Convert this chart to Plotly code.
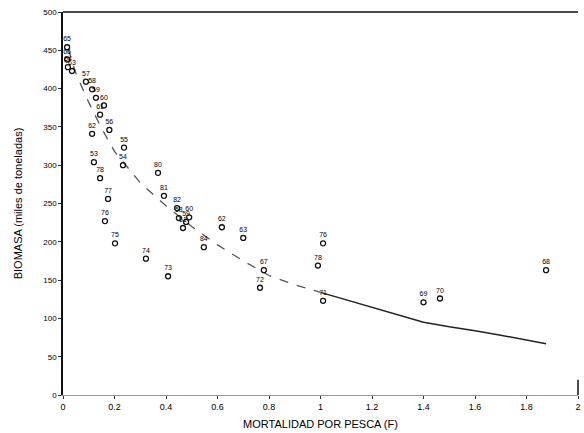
import plotly.graph_objects as go

# Observed points: fishing mortality (F), biomass (thousand t), year label
f_vals = [0.016, 0.016, 0.019, 0.035, 0.089, 0.113, 0.128, 0.159, 0.144, 0.113,
          0.180, 0.237, 0.233, 0.120, 0.144, 0.175, 0.163, 0.202, 0.322, 0.408,
          0.369, 0.392, 0.443, 0.450, 0.478, 0.490, 0.466, 0.547, 0.617, 0.700,
          0.780, 0.765, 0.990, 1.010, 1.010, 1.400, 1.464, 1.876]
b_vals = [454, 438, 428, 423, 409, 399, 388, 378, 366, 341,
          346, 323, 300, 304, 283, 256, 227, 198, 178, 155,
          290, 260, 244, 231, 226, 232, 218, 193, 219, 205,
          163, 140, 169, 198, 123, 121, 126, 163]
year_labels = ["65", "66", "64", "63", "57", "58", "59", "60", "61", "62",
               "56", "55", "54", "53", "78", "77", "76", "75", "74", "73",
               "80", "81", "82", "58", "59", "60", "61", "84", "62", "63",
               "67", "72", "78", "76", "71", "69", "70", "68"]

# Fitted curve
curve_f = [0.02, 0.05, 0.10, 0.15, 0.20, 0.30, 0.40, 0.50, 0.60, 0.70, 0.80, 0.90,
           1.00, 1.10, 1.20, 1.30, 1.40, 1.50, 1.60, 1.70, 1.80, 1.876]
curve_b = [452, 420, 382, 348, 318, 277, 247, 220, 196, 175, 156, 144,
           134, 124, 114, 104, 95, 89, 84, 78, 72, 67]

x_ticks = [0, 0.2, 0.4, 0.6, 0.8, 1, 1.2, 1.4, 1.6, 1.8, 2]
x_tick_text = ["0", "0.2", "0.4", "0.6", "0.8", "1", "1.2", "1.4", "1.6", "1.8", "2"]
y_ticks = [0, 50, 100, 150, 200, 250, 300, 350, 400, 450, 500]

split = 12  # dashed part up to F ~ 1, solid afterwards

fig = go.Figure()
fig.add_trace(go.Scatter(x=curve_f[:split + 1], y=curve_b[:split + 1], mode="lines",
                         line=dict(color="#555555", width=1.3, dash="dash"),
                         hoverinfo="skip", showlegend=False))
fig.add_trace(go.Scatter(x=curve_f[split:], y=curve_b[split:], mode="lines",
                         line=dict(color="#222222", width=1.5),
                         hoverinfo="skip", showlegend=False))
fig.add_trace(go.Scatter(x=f_vals, y=b_vals, mode="markers+text",
                         text=year_labels, textposition="top center",
                         textfont=dict(family="Arial", size=7, color="#000000"),
                         marker=dict(symbol="circle-open", size=5, color="#111111",
                                     line=dict(color="#111111", width=1.3)),
                         showlegend=False))

fig.update_layout(
    width=584, height=433,
    margin=dict(l=63, r=6, t=12, b=38),
    paper_bgcolor="white", plot_bgcolor="white",
    font=dict(family="Arial", color="#000000"),
    xaxis=dict(range=[0, 2], tickvals=x_ticks, ticktext=x_tick_text,
               automargin=False,
               showgrid=False, zeroline=False, showline=True,
               linecolor="#999999", linewidth=1, mirror=False,
               ticks="outside", ticklen=3, tickcolor="#333333",
               tickfont=dict(size=9, family="Arial"),
               title=dict(text="MORTALIDAD POR PESCA (F)", standoff=9,
                          font=dict(size=11, family="Arial"))),
    yaxis=dict(range=[0, 500], tickvals=y_ticks,
               automargin=False,
               showgrid=False, zeroline=False, showline=True,
               linecolor="#111111", linewidth=1.5,
               ticks="outside", ticklen=3, tickcolor="#333333",
               tickfont=dict(size=8, family="Arial"),
               title=dict(text="BIOMASA (miles de toneladas)", standoff=18,
                          font=dict(size=11, family="Arial"))),
    shapes=[dict(type="line", xref="paper", yref="paper", x0=0, x1=1, y0=1, y1=1,
                 line=dict(color="#111111", width=1.5)),
            dict(type="line", xref="paper", yref="paper", x0=1, x1=1, y0=0, y1=0.04,
                 line=dict(color="#111111", width=1.5))],
)

fig.write_html("out.html", config={"displayModeBar": False},
               post_script="document.body.style.margin='0';document.body.style.overflow='hidden';")
